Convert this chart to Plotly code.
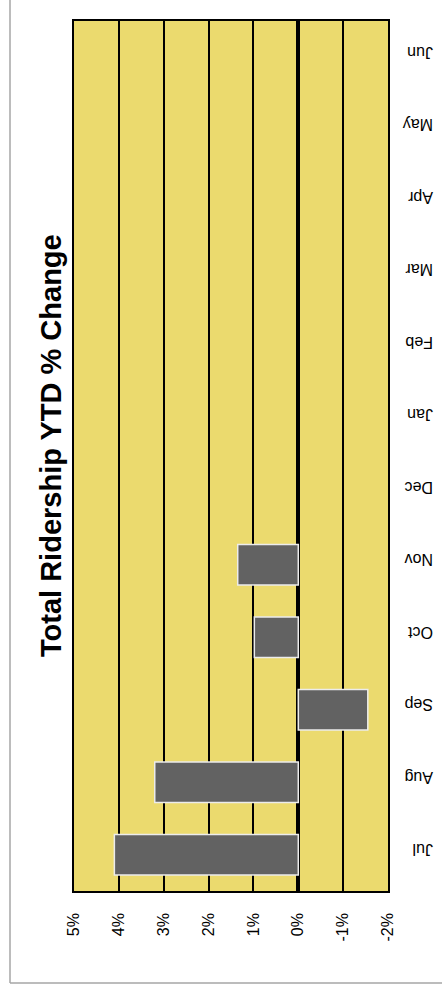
import plotly.graph_objects as go

# Fiscal-year months (Jul..Jun) and year-to-date ridership change, in percent
months = ["Jul", "Aug", "Sep", "Oct", "Nov", "Dec", "Jan", "Feb", "Mar", "Apr", "May", "Jun"]
ytd_change = [4.1, 3.2, -1.55, 0.98, 1.35, None, None, None, None, None, None, None]
tick_values = [5, 4, 3, 2, 1, 0, -1, -2]
tick_labels = ["5%", "4%", "3%", "2%", "1%", "0%", "-1%", "-2%"]
title_text = "Total Ridership YTD % Change"

FONT = "Liberation Sans, Arial, sans-serif"

fig = go.Figure()
fig.add_trace(go.Bar(
    y=months,
    x=ytd_change,
    orientation="h",
    width=0.56,
    marker=dict(color="#626262", line=dict(color="#ECECEC", width=1.5)),
    hoverinfo="x+y",
))

fig.update_layout(
    width=442,
    height=987,
    margin=dict(l=74, r=54, t=21, b=96),
    paper_bgcolor="white",
    plot_bgcolor="#EBDA6E",
    showlegend=False,
    font=dict(family=FONT, color="#000000"),
    xaxis=dict(
        range=[5, -2],
        tickvals=tick_values,
        ticktext=tick_labels,
        tickangle=-90,
        tickfont=dict(size=16, family=FONT),
        showgrid=True,
        gridcolor="#000000",
        gridwidth=1.5,
        zeroline=True,
        zerolinecolor="#000000",
        zerolinewidth=3.5,
        showline=True,
        linecolor="#000000",
        linewidth=1.5,
        mirror=True,
        ticks="outside",
        ticklen=14,
        tickcolor="rgba(0,0,0,0)",
        automargin=False,
        fixedrange=True,
    ),
    yaxis=dict(
        categoryorder="array",
        categoryarray=months,
        side="right",
        tickangle=180,
        tickfont=dict(size=16, family=FONT),
        showgrid=False,
        showline=True,
        linecolor="#000000",
        linewidth=1.5,
        mirror=True,
        ticks="outside",
        ticklen=40,
        tickcolor="rgba(0,0,0,0)",
        automargin=False,
        fixedrange=True,
    ),
    annotations=[dict(
        text="<b>" + title_text + "</b>",
        xref="paper", yref="paper",
        x=-0.0732, y=0.5115,
        xanchor="center", yanchor="middle",
        textangle=-90,
        showarrow=False,
        font=dict(size=29, family=FONT, color="#000000"),
    )],
    shapes=[
        # outer chart frame (left and bottom edges fall inside the page)
        dict(type="line", xref="paper", yref="paper",
             x0=-0.2038, x1=-0.2038, y0=-0.1057, y1=1.2,
             line=dict(color="#A6A6A6", width=1.5)),
        dict(type="line", xref="paper", yref="paper",
             x0=-0.2038, x1=1.4, y0=-0.1057, y1=-0.1057,
             line=dict(color="#A6A6A6", width=1.5)),
    ],
)

fig.write_html("out.html")
